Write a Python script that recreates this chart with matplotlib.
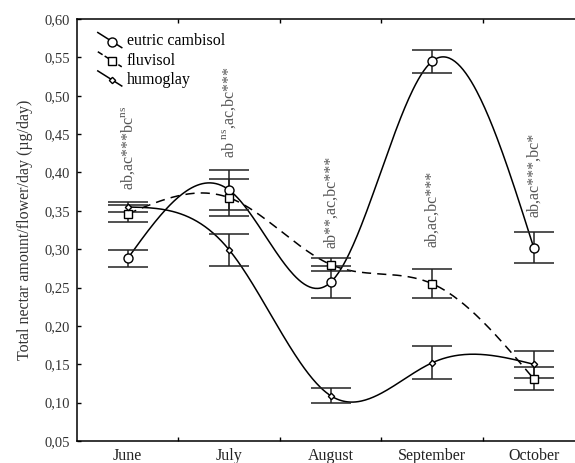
import numpy as np
import matplotlib
matplotlib.use("Agg")
import matplotlib.pyplot as plt
from matplotlib.lines import Line2D
from matplotlib.legend_handler import HandlerBase

plt.rcParams['font.family'] = ['Liberation Serif', 'DejaVu Serif']
plt.rcParams['mathtext.fontset'] = 'custom'
plt.rcParams['mathtext.rm'] = 'Liberation Serif'

months = ["June", "July", "August", "September", "October"]

cambisol = [0.288, 0.377, 0.257, 0.545, 0.302]
cambisol_err = [0.011, 0.026, 0.021, 0.015, 0.020]
fluvisol = [0.346, 0.367, 0.280, 0.255, 0.131]
fluvisol_err = [0.011, 0.024, 0.009, 0.019, 0.015]
humoglay = [0.355, 0.299, 0.109, 0.152, 0.150]
humoglay_err = [0.007, 0.021, 0.0095, 0.0215, 0.0178]

notes = [r"ab,ac***bc$^{\mathrm{ns}}$",
         r"ab$^{\mathrm{\ ns}}$,ac,bc***",
         r"ab**,ac,bc***",
         r"ab,ac,bc***",
         r"ab,ac***,bc*"]
note_y = [0.377, 0.419, 0.301, 0.303, 0.342]

yticks = [0.05, 0.10, 0.15, 0.20, 0.25, 0.30, 0.35, 0.40, 0.45, 0.50, 0.55, 0.60]
ytick_labels = ["0,05", "0,10", "0,15", "0,20", "0,25", "0,30", "0,35", "0,40",
                "0,45", "0,50", "0,55", "0,60"]


def natural_spline(y, n=300):
    # natural cubic spline, unit spacing
    y = np.asarray(y, float)
    k = len(y)
    A = np.zeros((k, k))
    b = np.zeros(k)
    A[0, 0] = 1
    A[-1, -1] = 1
    for i in range(1, k - 1):
        A[i, i - 1] = 1
        A[i, i] = 4
        A[i, i + 1] = 1
        b[i] = 6 * (y[i - 1] - 2 * y[i] + y[i + 1])
    M = np.linalg.solve(A, b)
    xs = np.linspace(0, k - 1, n)
    out = []
    for x in xs:
        i = min(int(x), k - 2)
        t = x - i
        s = (M[i] * (1 - t) ** 3 / 6 + M[i + 1] * t ** 3 / 6
             + (y[i] - M[i] / 6) * (1 - t) + (y[i + 1] - M[i + 1] / 6) * t)
        out.append(s)
    return xs, np.array(out)


class SlantHandler(HandlerBase):
    def create_artists(self, legend, orig, xdescent, ydescent, width, height, fontsize, trans):
        x0, x1 = -xdescent, -xdescent + width
        y0, y1 = -ydescent + height * 1.15, -ydescent - height * 0.2
        ln = Line2D([x0, x1], [y0, y1], color='k', lw=1.1, linestyle=orig.get_linestyle())
        mk = Line2D([x0 + 0.6 * (x1 - x0)], [y0 + 0.6 * (y1 - y0)], marker=orig.get_marker(),
                    ms=orig.get_markersize(), mfc='white', mec='k', mew=1.0, linestyle='none')
        ln.set_transform(trans)
        mk.set_transform(trans)
        return [ln, mk]


fig = plt.figure(figsize=(5.75, 4.63), dpi=100)
ax = fig.add_axes([0.1339, 0.0475, 0.8826, 0.9114])

x = np.arange(len(months))
series = [(cambisol, cambisol_err, 'o', 6.5, '-', "eutric cambisol"),
          (fluvisol, fluvisol_err, 's', 5.5, (0, (6, 4)), "fluvisol"),
          (humoglay, humoglay_err, 'D', 3.2, '-', "humoglay")]

handles = []
for vals, err, mk, ms, ls, lab in series:
    xs, ys = natural_spline(vals)
    ax.plot(xs, ys, color='k', lw=1.1, linestyle=ls, zorder=2)
    ax.errorbar(x, vals, yerr=err, fmt='none', ecolor='#222222', elinewidth=1.1,
                capsize=14.4, capthick=1.1, zorder=3)
    ax.plot(x, vals, linestyle='none', marker=mk, ms=ms, mfc='white', mec='k',
            mew=1.0, zorder=4)
    handles.append(Line2D([], [], color='k', linestyle=ls, marker=mk, ms=ms, label=lab))

for i, (s, yy) in enumerate(zip(notes, note_y)):
    ax.text(i, yy, s, rotation=90, ha='center', va='bottom', fontsize=11.5, color='#555555')

leg = ax.legend(handles=handles, loc='upper left', bbox_to_anchor=(0.041, 0.966),
                frameon=False, fontsize=11.5, handlelength=1.5, handletextpad=0.3,
                labelspacing=0.2, borderpad=0, borderaxespad=0,
                handler_map={Line2D: SlantHandler()})

ax.set_xlim(-0.5, 4.5)
ax.set_ylim(0.05, 0.60)
ax.set_yticks(yticks)
ax.set_yticklabels(ytick_labels)
ax.set_xticks(x)
ax.set_xticklabels(months)
ax.set_xticks(x[:-1] + 0.5, minor=True)
ax.tick_params(axis='x', which='major', length=0, pad=5, labelsize=11.5, colors='#222222')
ax.tick_params(axis='x', which='minor', direction='in', length=3, top=True, width=1)
ax.tick_params(axis='y', direction='in', length=3, width=1, pad=5, labelsize=10.5, labelcolor='#333333')
for sp in ax.spines.values():
    sp.set_linewidth(1.1)
ax.spines['right'].set_visible(False)
ax.set_ylabel("Total nectar amount/flower/day (µg/day)", fontsize=11.5, color='#333333', labelpad=8)

fig.savefig("out.png", dpi=100)
